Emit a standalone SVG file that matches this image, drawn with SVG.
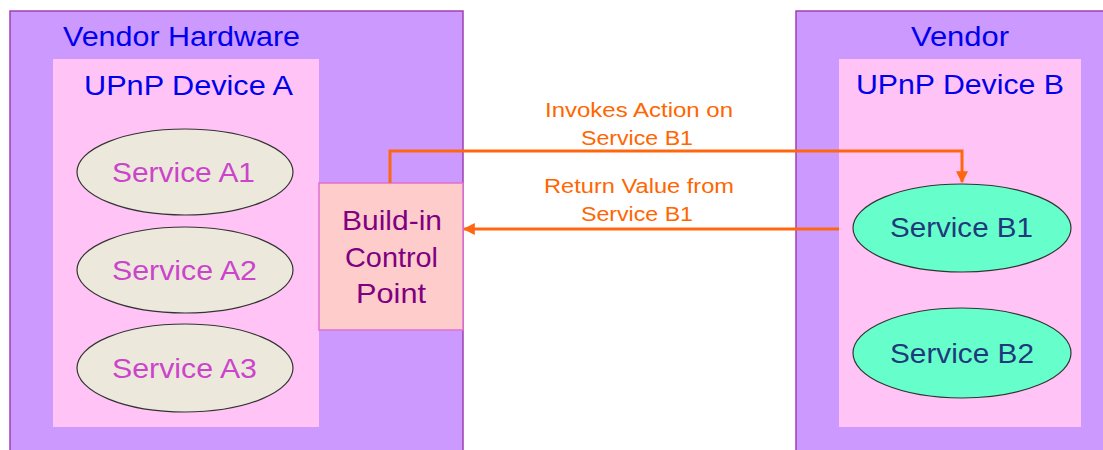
<svg xmlns="http://www.w3.org/2000/svg" width="1103" height="450" viewBox="0 0 1103 450">
  <style>
    .outer { fill: #cc99ff; stroke: #a040b0; stroke-width: 1.5; }
    .device { fill: #ffc4f5; }
    .svcA { fill: #ece9dc; stroke: #333; stroke-width: 1.2; }
    .svcB { fill: #66ffcc; stroke: #333; stroke-width: 1.2; }
    text { font-family: "Liberation Sans", Arial, sans-serif; }
    .title { font-size: 28px; fill: #0000ee; }
    .svcTxtA { font-size: 27px; fill: #cc44cc; }
    .svcTxtB { font-size: 27px; fill: #1f3a7a; }
    .cpTxt { font-size: 28px; fill: #800080; }
    .lbl { font-size: 20.5px; fill: #ff6600; }
    .wire { fill: none; stroke: #ff6610; stroke-width: 3; }
  </style>
  <defs>
    <marker id="arrow" viewBox="0 0 10 10" refX="9" refY="5" markerWidth="4" markerHeight="4" orient="auto" markerUnits="strokeWidth">
      <path d="M0,0 L10,5 L0,10 z" fill="#ff6610"/>
    </marker>
  </defs>

  <rect width="1103" height="450" fill="#ffffff"/>

  <!-- left hardware -->
  <g id="vendor-hardware">
    <rect class="outer" x="10" y="11" width="453" height="450"/>
    <text class="title" x="63" y="46" textLength="237" lengthAdjust="spacingAndGlyphs">Vendor Hardware</text>
  </g>
  <g id="device-a">
    <rect class="device" x="53" y="59" width="266" height="368"/>
    <text class="title" x="84" y="95" textLength="209" lengthAdjust="spacingAndGlyphs">UPnP Device A</text>
  </g>
  <g id="service-a1">
    <ellipse class="svcA" cx="185" cy="172" rx="108" ry="43"/>
    <text class="svcTxtA" x="112" y="182" textLength="143" lengthAdjust="spacingAndGlyphs">Service A1</text>
  </g>
  <g id="service-a2">
    <ellipse class="svcA" cx="185" cy="270" rx="108" ry="43"/>
    <text class="svcTxtA" x="112" y="280" textLength="145" lengthAdjust="spacingAndGlyphs">Service A2</text>
  </g>
  <g id="service-a3">
    <ellipse class="svcA" cx="185" cy="368" rx="108" ry="44"/>
    <text class="svcTxtA" x="112" y="378" textLength="145" lengthAdjust="spacingAndGlyphs">Service A3</text>
  </g>
  <g id="control-point">
    <rect x="319" y="183" width="144" height="147" fill="#ffcccc" stroke="#e070d0" stroke-width="1.5"/>
    <text class="cpTxt" x="342" y="230" textLength="100" lengthAdjust="spacingAndGlyphs">Build-in</text>
    <text class="cpTxt" x="345" y="267" textLength="93" lengthAdjust="spacingAndGlyphs">Control</text>
    <text class="cpTxt" x="356" y="303" textLength="70" lengthAdjust="spacingAndGlyphs">Point</text>
  </g>

  <!-- right vendor -->
  <g id="vendor">
    <rect class="outer" x="796" y="11" width="320" height="450"/>
    <text class="title" x="911" y="46" textLength="98" lengthAdjust="spacingAndGlyphs">Vendor</text>
  </g>
  <g id="device-b">
    <rect class="device" x="839" y="59" width="242" height="368"/>
    <text class="title" x="856" y="94" textLength="208" lengthAdjust="spacingAndGlyphs">UPnP Device B</text>
  </g>
  <g id="service-b1">
    <ellipse class="svcB" cx="962" cy="228" rx="109" ry="44"/>
    <text class="svcTxtB" x="890" y="237" textLength="143" lengthAdjust="spacingAndGlyphs">Service B1</text>
  </g>
  <g id="service-b2">
    <ellipse class="svcB" cx="962" cy="353" rx="109" ry="45"/>
    <text class="svcTxtB" x="890" y="363" textLength="144" lengthAdjust="spacingAndGlyphs">Service B2</text>
  </g>

  <!-- connectors -->
  <g id="connectors">
    <path class="wire" d="M390,183 V151 H962 V182" marker-end="url(#arrow)"/>
    <path class="wire" d="M839,229 H464" marker-end="url(#arrow)"/>
    <text class="lbl" x="545" y="117" textLength="188" lengthAdjust="spacingAndGlyphs">Invokes Action on</text>
    <text class="lbl" x="581" y="145" textLength="112" lengthAdjust="spacingAndGlyphs">Service B1</text>
    <text class="lbl" x="544" y="193" textLength="190" lengthAdjust="spacingAndGlyphs">Return Value from</text>
    <text class="lbl" x="581" y="221" textLength="112" lengthAdjust="spacingAndGlyphs">Service B1</text>
  </g>
</svg>
